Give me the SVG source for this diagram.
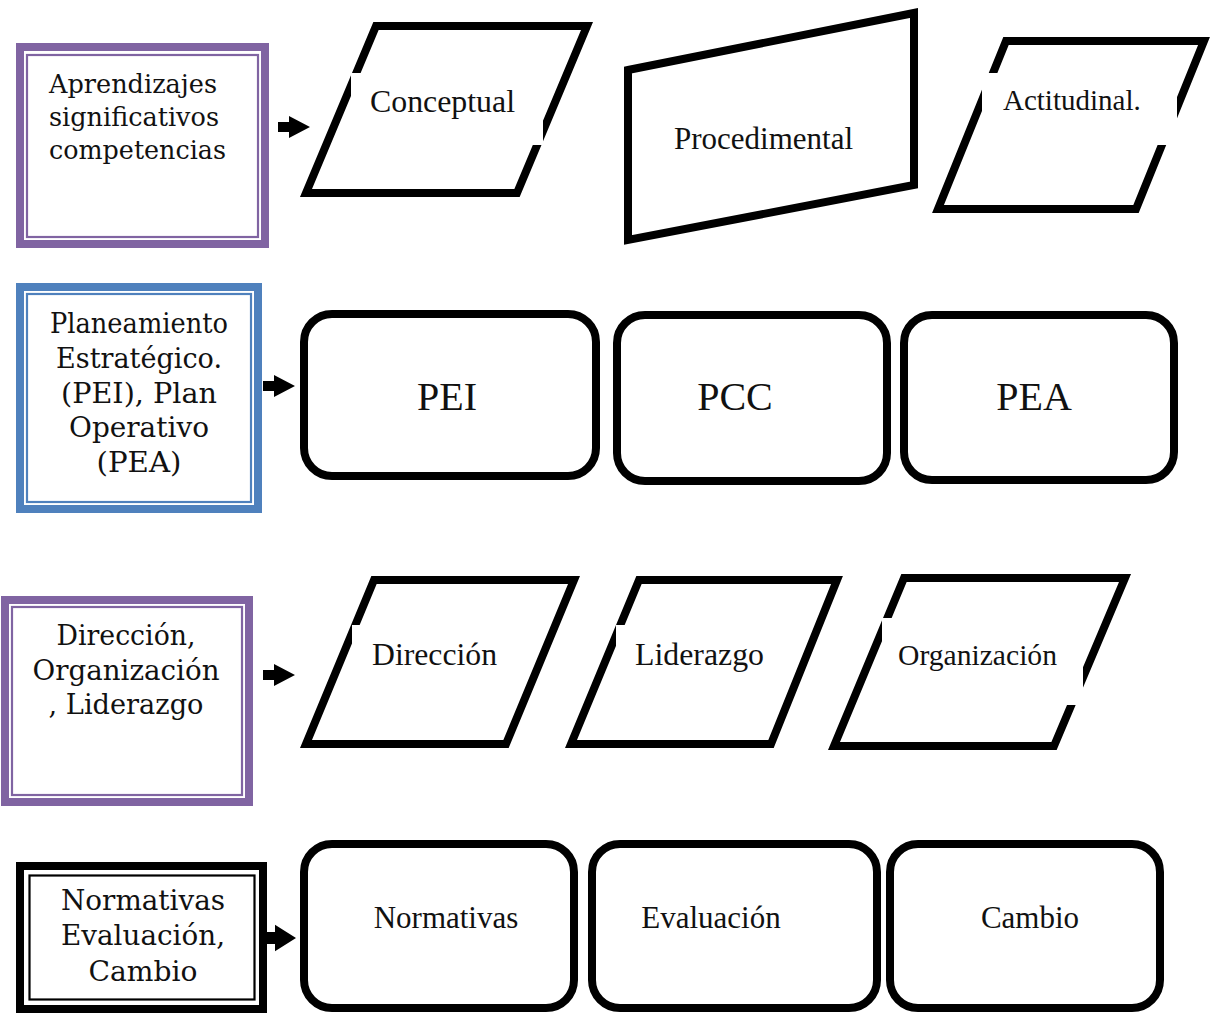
<svg xmlns="http://www.w3.org/2000/svg" width="1215" height="1014" viewBox="0 0 1215 1014">
  <defs>
    <style>
      .frame-outer { fill: #ffffff; stroke-width: 8; }
      .frame-inner { fill: none; stroke-width: 2.2; }
      .purple { stroke: #8064A2; }
      .blue { stroke: #4F81BD; }
      .black { stroke: #000000; }
      .shape { fill: #ffffff; stroke: #000000; stroke-width: 8; stroke-linejoin: miter; }
      .pad { fill: #ffffff; stroke: none; }
      .cat { font-family: "DejaVu Serif", "Liberation Serif", serif; font-size: 26px; fill: #111111; }
      .cat-l { font-size: 27px; }
      .lbl { font-family: "Liberation Serif", "Times New Roman", serif; font-size: 31px; fill: #111111; }
      .lbl-s { font-size: 29px; }
      .lbl-l { font-size: 40px; }
      .arrow { fill: #000000; }
    </style>
    <path id="blockArrow" d="M0,-5 H11 V-11 L32,0 L11,11 V5 H0 Z"/>
  </defs>

  <rect width="1215" height="1014" fill="#ffffff"/>

  <!-- Row 1: Aprendizajes -->
  <g id="node-aprendizajes">
    <rect class="frame-outer purple" x="20" y="47" width="245" height="197"/>
    <rect class="frame-inner purple" x="27" y="55" width="231" height="182"/>
    <text class="cat" x="49" y="93" textLength="168" lengthAdjust="spacingAndGlyphs">Aprendizajes</text>
    <text class="cat" x="49" y="126" textLength="170" lengthAdjust="spacingAndGlyphs">significativos</text>
    <text class="cat" x="49" y="159" textLength="177" lengthAdjust="spacingAndGlyphs">competencias</text>
  </g>

  <g id="node-conceptual">
    <polygon class="shape" points="376,26 587,26 517,193 306,193"/>
    <rect class="pad" x="351" y="73" width="192" height="72"/>
    <text class="lbl" x="370" y="112" textLength="145" lengthAdjust="spacingAndGlyphs">Conceptual</text>
  </g>

  <g id="node-procedimental">
    <polygon class="shape" points="628,70 914,13 914,185 628,240"/>
    <text class="lbl" x="674" y="149">Procedimental</text>
  </g>

  <g id="node-actitudinal">
    <polygon class="shape" points="1006,41 1204,41 1136,209 938,209"/>
    <rect class="pad" x="982" y="73" width="195" height="72"/>
    <text class="lbl lbl-s" x="1003" y="110">Actitudinal.</text>
  </g>

  <!-- Row 2: Planeamiento -->
  <g id="node-planeamiento">
    <rect class="frame-outer blue" x="20" y="287" width="238" height="222"/>
    <rect class="frame-inner blue" x="27" y="294" width="224" height="208"/>
    <g text-anchor="middle">
      <text class="cat cat-l" x="139" y="333" textLength="178" lengthAdjust="spacingAndGlyphs">Planeamiento</text>
      <text class="cat cat-l" x="139" y="368" textLength="166" lengthAdjust="spacingAndGlyphs">Estratégico.</text>
      <text class="cat cat-l" x="139" y="403" textLength="156" lengthAdjust="spacingAndGlyphs">(PEI), Plan</text>
      <text class="cat cat-l" x="139" y="437" textLength="140" lengthAdjust="spacingAndGlyphs">Operativo</text>
      <text class="cat cat-l" x="139" y="472" textLength="85" lengthAdjust="spacingAndGlyphs">(PEA)</text>
    </g>
  </g>

  <g id="node-pei">
    <rect class="shape" x="304" y="314" width="292" height="162" rx="28"/>
    <text class="lbl lbl-l" x="447" y="410" text-anchor="middle">PEI</text>
  </g>

  <g id="node-pcc">
    <rect class="shape" x="617" y="315" width="270" height="166" rx="28"/>
    <text class="lbl lbl-l" x="735" y="410" text-anchor="middle">PCC</text>
  </g>

  <g id="node-pea">
    <rect class="shape" x="904" y="315" width="270" height="165" rx="28"/>
    <text class="lbl lbl-l" x="1034" y="410" text-anchor="middle">PEA</text>
  </g>

  <!-- Row 3: Dirección -->
  <g id="node-direccion-grupo">
    <rect class="frame-outer purple" x="5" y="600" width="244" height="202"/>
    <rect class="frame-inner purple" x="12" y="607" width="230" height="188"/>
    <g text-anchor="middle">
      <text class="cat cat-l" x="126" y="645" textLength="139" lengthAdjust="spacingAndGlyphs">Dirección,</text>
      <text class="cat cat-l" x="126" y="680" textLength="187" lengthAdjust="spacingAndGlyphs">Organización</text>
      <text class="cat cat-l" x="126" y="714" textLength="155" lengthAdjust="spacingAndGlyphs">, Liderazgo</text>
    </g>
  </g>

  <g id="node-direccion">
    <polygon class="shape" points="374,580 574,580 506,744 306,744"/>
    <rect class="pad" x="352" y="625" width="160" height="72"/>
    <text class="lbl" x="372" y="665" textLength="125" lengthAdjust="spacingAndGlyphs">Dirección</text>
  </g>

  <g id="node-liderazgo">
    <polygon class="shape" points="639,580 837,580 771,744 571,744"/>
    <rect class="pad" x="616" y="625" width="160" height="72"/>
    <text class="lbl" x="635" y="665" textLength="129" lengthAdjust="spacingAndGlyphs">Liderazgo</text>
  </g>

  <g id="node-organizacion">
    <polygon class="shape" points="904,578 1125,578 1054,746 834,746"/>
    <rect class="pad" x="882" y="618" width="201" height="87"/>
    <text class="lbl lbl-s" x="898" y="665" textLength="159" lengthAdjust="spacingAndGlyphs">Organización</text>
  </g>

  <!-- Row 4: Normativas -->
  <g id="node-normativas-grupo">
    <rect class="frame-outer black" x="20" y="866" width="243" height="143"/>
    <rect class="frame-inner black" x="29.5" y="875.5" width="225" height="124"/>
    <g text-anchor="middle">
      <text class="cat cat-l" x="143" y="910" textLength="164" lengthAdjust="spacingAndGlyphs">Normativas</text>
      <text class="cat cat-l" x="143" y="945" textLength="164" lengthAdjust="spacingAndGlyphs">Evaluación,</text>
      <text class="cat cat-l" x="143" y="981" textLength="109" lengthAdjust="spacingAndGlyphs">Cambio</text>
    </g>
  </g>

  <g id="node-normativas">
    <rect class="shape" x="304" y="844" width="270" height="164" rx="28"/>
    <text class="lbl" x="446" y="928" text-anchor="middle">Normativas</text>
  </g>

  <g id="node-evaluacion">
    <rect class="shape" x="592" y="844" width="285" height="164" rx="28"/>
    <text class="lbl" x="711" y="928" text-anchor="middle">Evaluación</text>
  </g>

  <g id="node-cambio">
    <rect class="shape" x="890" y="844" width="270" height="164" rx="28"/>
    <text class="lbl" x="1030" y="928" text-anchor="middle">Cambio</text>
  </g>

  <!-- Connectors -->
  <g id="connectors" class="arrow">
    <use href="#blockArrow" transform="translate(278,127)"/>
    <use href="#blockArrow" transform="translate(263,386)"/>
    <use href="#blockArrow" transform="translate(263,675)"/>
    <use href="#blockArrow" transform="translate(264,938) scale(1,1.2)"/>
  </g>
</svg>
